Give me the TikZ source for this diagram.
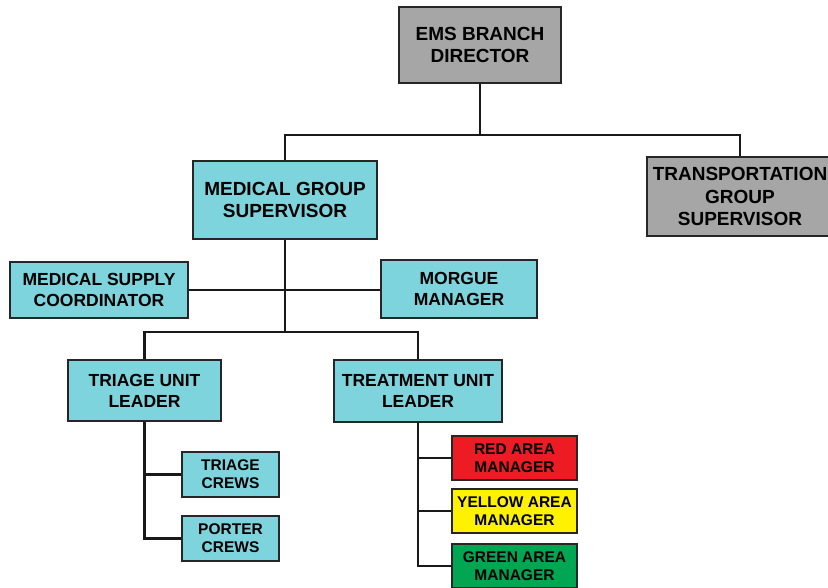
\documentclass[tikz,border=0pt]{standalone}
\usepackage{fontspec}
\setmainfont{Liberation Sans}
\definecolor{boxgray}{HTML}{A6A6A6}
\definecolor{boxcyan}{HTML}{7DD4DC}
\definecolor{boxred}{HTML}{ED1C24}
\definecolor{boxyellow}{HTML}{FFF200}
\definecolor{boxgreen}{HTML}{00A651}

\begin{document}
\begin{tikzpicture}[x=1pt,y=-1pt,
  box/.style={draw=black!85,line width=1.8pt,align=center,inner sep=1.5pt},
  big/.style={box,font=\fontsize{19}{22.5}\selectfont\bfseries},
  mid/.style={box,font=\fontsize{17.5}{21}\selectfont\bfseries},
  small/.style={box,font=\fontsize{15.5}{18}\selectfont\bfseries},
  link/.style={draw=black!90,line width=2.8pt}]
  \useasboundingbox (0,0) rectangle (828,587);

  % Draw the top levels
  \node[big,fill=boxgray,minimum width=162,minimum height=76] (ems) at (480,45) {EMS BRANCH\\DIRECTOR};
  \node[big,fill=boxcyan,minimum width=184,minimum height=78] (medgroup) at (285,200) {MEDICAL GROUP\\SUPERVISOR};
  \node[big,fill=boxgray,minimum width=186,minimum height=79] (transport) at (740,196.5) {TRANSPORTATION\\GROUP\\SUPERVISOR};

  % Draw the staff boxes
  \node[mid,fill=boxcyan,minimum width=178,minimum height=56] (supply) at (99,290) {MEDICAL SUPPLY\\COORDINATOR};
  \node[mid,fill=boxcyan,minimum width=156,minimum height=58] (morgue) at (459,289) {MORGUE\\MANAGER};

  % Draw the unit leaders
  \node[mid,fill=boxcyan,minimum width=153,minimum height=61] (triage) at (144.5,390.5) {TRIAGE UNIT\\LEADER};
  \node[mid,fill=boxcyan,minimum width=168,minimum height=62] (treatment) at (418,391) {TREATMENT UNIT\\LEADER};

  % Draw the crews and area managers
  \node[small,fill=boxcyan,minimum width=97,minimum height=45] (triagecrews) at (230.5,474.5) {TRIAGE\\CREWS};
  \node[small,fill=boxcyan,minimum width=97,minimum height=45] (portercrews) at (230.5,538.5) {PORTER\\CREWS};
  \node[small,fill=boxred,minimum width=125,minimum height=44] (red) at (514.5,458) {RED AREA\\MANAGER};
  \node[small,fill=boxyellow,minimum width=125,minimum height=44] (yellow) at (514.5,511) {YELLOW AREA\\MANAGER};
  \node[small,fill=boxgreen,minimum width=125,minimum height=44] (green) at (514.5,566) {GREEN AREA\\MANAGER};

  % Draw the connectors
  \coordinate (topbar) at (480,135);
  \coordinate (midbar) at (285,332);
  \draw[link] (ems.south) -- (topbar);
  \draw[link] (medgroup.north) |- (topbar) -| (transport.north);
  \draw[link] (medgroup.south) -- (midbar);
  \draw[link] (supply.east) -- (supply.east -| morgue.west);
  \draw[link] (triage.north) |- (midbar) -| (treatment.north);
  \draw[link] (triage.south) |- (portercrews.west);
  \draw[link] (triage.south |- triagecrews.west) -- (triagecrews.west);
  \draw[link] (treatment.south) |- (green.west);
  \foreach \n in {red,yellow}
    \draw[link] (treatment.south |- \n.west) -- (\n.west);
\end{tikzpicture}
\end{document}
